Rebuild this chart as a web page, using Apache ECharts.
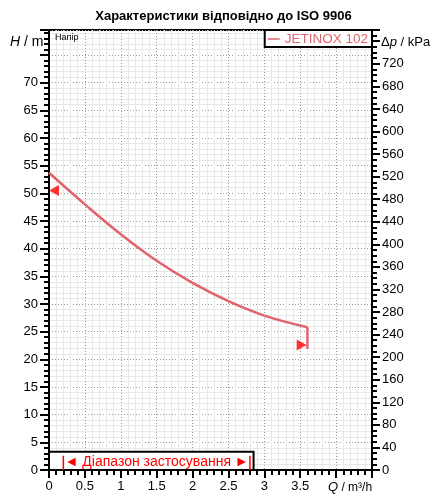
<!DOCTYPE html>
<html>
<head>
<meta charset="utf-8">
<script src="https://cdn.jsdelivr.net/npm/echarts@6/dist/echarts.min.js"></script>
<style>
  html, body { margin: 0; padding: 0; background: #fff; }
  #chart { width: 447px; height: 502px; }
</style>
</head>
<body>
<div id="chart"></div>
<script>
// pump curve
const flowQ = [0, 0.5, 1, 1.5, 2, 2.5, 3, 3.6];
const headH = [53.7, 48.0, 42.6, 37.8, 33.8, 30.5, 27.9, 25.8];
const dropQ = [3.6, 3.6];
const dropH = [25.8, 21.9];
// operating limit marks
const limitLeft = [0.07, 50.5];
const limitRight = [3.52, 22.6];
// range of use
const rangeQ = [0.2, 2.8];
const rangeBox = [2.85, 3.3];

const H_MAX = 79.5;
const KPA_PER_M = 9.81;
const curveColor = '#e0646f';
const font = 'Liberation Sans, Arial, sans-serif';

const chart = echarts.init(document.getElementById('chart'));

const axisTitles = [
  { type: 'text', z: 20, left: 10, top: 35, style: { text: '{i|H} / m', fill: '#000', font: '14px ' + font,
    rich: { i: { fontStyle: 'italic', fontSize: 14, fontFamily: font } } } },
  { type: 'text', z: 20, left: 381, top: 36, style: { text: 'Δ{i|p} / kPa', fill: '#000', font: '13px ' + font,
    rich: { i: { fontStyle: 'italic', fontSize: 13, fontFamily: font } } } },
  { type: 'text', z: 20, left: 328, top: 481, style: { text: '{i|Q} / m³/h', fill: '#000', font: '12px ' + font,
    rich: { i: { fontStyle: 'italic', fontSize: 13, fontFamily: font } } } },
  { type: 'text', z: 20, left: 55, top: 33, style: { text: 'Напір', fill: '#000', font: '9px ' + font } }
];

chart.setOption({
  animation: false,
  backgroundColor: '#fff',
  textStyle: { fontFamily: font },
  title: {
    text: 'Характеристики відповідно до ISO 9906',
    left: 'center', top: 5,
    textStyle: { fontSize: 13, fontWeight: 'bold', color: '#000', fontFamily: font }
  },
  grid: {
    left: 49, right: 75, top: 30, bottom: 32,
    show: true, borderColor: '#000', borderWidth: 2, backgroundColor: '#fff'
  },
  legend: {
    data: [{ name: 'JETINOX 102', icon: 'rect' }],
    right: 75, top: 30,
    backgroundColor: '#fff', borderColor: '#000', borderWidth: 2,
    padding: [2, 4, 1, 3],
    itemWidth: 12, itemHeight: 1.5, itemGap: 4,
    textStyle: { color: curveColor, fontSize: 13.5, fontFamily: font }
  },
  xAxis: {
    type: 'value', min: 0, max: 4.5, interval: 0.5,
    axisLine: { lineStyle: { color: '#000', width: 2 } },
    axisTick: { show: true, inside: false, length: 8, lineStyle: { color: '#000', width: 2 } },
    minorTick: { show: true, splitNumber: 5, length: 5, lineStyle: { color: '#000', width: 2 } },
    axisLabel: {
      color: '#000', fontSize: 13, margin: 10,
      formatter: v => (v > 3.6 ? '' : String(v))
    },
    splitLine: { show: true, lineStyle: { color: '#9a9a9a', type: [1, 2], width: 1 } },
    minorSplitLine: { show: true, lineStyle: { color: '#e8e8e8', width: 1 } }
  },
  yAxis: [
    {
      type: 'value', min: 0, max: H_MAX, interval: 5,
      axisLine: { show: true, lineStyle: { color: '#000', width: 2 } },
      axisTick: { show: true, length: 9, lineStyle: { color: '#000', width: 2 } },
      minorTick: { show: true, splitNumber: 5, length: 5, lineStyle: { color: '#000', width: 2 } },
      axisLabel: {
        color: '#000', fontSize: 13, margin: 11,
        formatter: v => (v > 70 ? '' : String(v))
      },
      splitLine: { show: true, lineStyle: { color: '#9a9a9a', type: [1, 2], width: 1 } },
      minorSplitLine: { show: true, lineStyle: { color: '#e8e8e8', width: 1 } }
    },
    {
      type: 'value', min: 0, max: H_MAX * KPA_PER_M, interval: 40, position: 'right',
      axisLine: { show: true, lineStyle: { color: '#000', width: 2 } },
      axisTick: { show: true, length: 8, lineStyle: { color: '#000', width: 2 } },
      minorTick: { show: true, splitNumber: 4, length: 5, lineStyle: { color: '#000', width: 2 } },
      axisLabel: {
        color: '#000', fontSize: 13, margin: 10,
        formatter: v => (v > 720 ? '' : String(v))
      },
      splitLine: { show: false }
    }
  ],
  graphic: axisTitles,
  series: [
    {
      name: 'JETINOX 102', type: 'line', smooth: 0.4, showSymbol: false, symbol: 'none',
      data: flowQ.map((q, i) => [q, headH[i]]),
      lineStyle: { color: curveColor, width: 2.5 }, itemStyle: { color: curveColor }
    },
    {
      name: 'drop', type: 'line', showSymbol: false, symbol: 'none',
      data: dropQ.map((q, i) => [q, dropH[i]]),
      lineStyle: { color: curveColor, width: 2.5 }
    },
    {
      name: 'limits', type: 'scatter', symbol: 'triangle',
      data: [
        { value: limitLeft, symbolRotate: 90 },
        { value: limitRight, symbolRotate: -90 }
      ],
      symbolSize: [11, 10],
      itemStyle: { color: '#ff0000' }
    }
  ]
});

// range-of-use box along the bottom
const p0 = chart.convertToPixel({ gridIndex: 0 }, [0, 0]);
const pBox = chart.convertToPixel({ gridIndex: 0 }, rangeBox);
const pA = chart.convertToPixel({ gridIndex: 0 }, [rangeQ[0], 0]);
const pB = chart.convertToPixel({ gridIndex: 0 }, [rangeQ[1], 0]);
const barTop = pBox[1] + 4;

chart.setOption({
  graphic: axisTitles.concat([
    { type: 'rect', z: 10, shape: { x: p0[0], y: pBox[1], width: pBox[0] - p0[0], height: p0[1] - pBox[1] },
      style: { fill: '#fff', stroke: '#000', lineWidth: 2 } },
    { type: 'line', z: 11, shape: { x1: pA[0], y1: barTop, x2: pA[0], y2: p0[1] }, style: { stroke: '#ff0000', lineWidth: 1.5 } },
    { type: 'line', z: 11, shape: { x1: pB[0], y1: barTop, x2: pB[0], y2: p0[1] }, style: { stroke: '#ff0000', lineWidth: 1.5 } },
    { type: 'text', z: 11, x: (pA[0] + pB[0]) / 2, y: (pBox[1] + p0[1]) / 2 + 1,
      style: { text: '◄ Діапазон застосування ►', fill: '#ff0000', font: '14px ' + font, align: 'center', verticalAlign: 'middle' } }
  ])
});

window.addEventListener('resize', () => chart.resize());
</script>
</body>
</html>
